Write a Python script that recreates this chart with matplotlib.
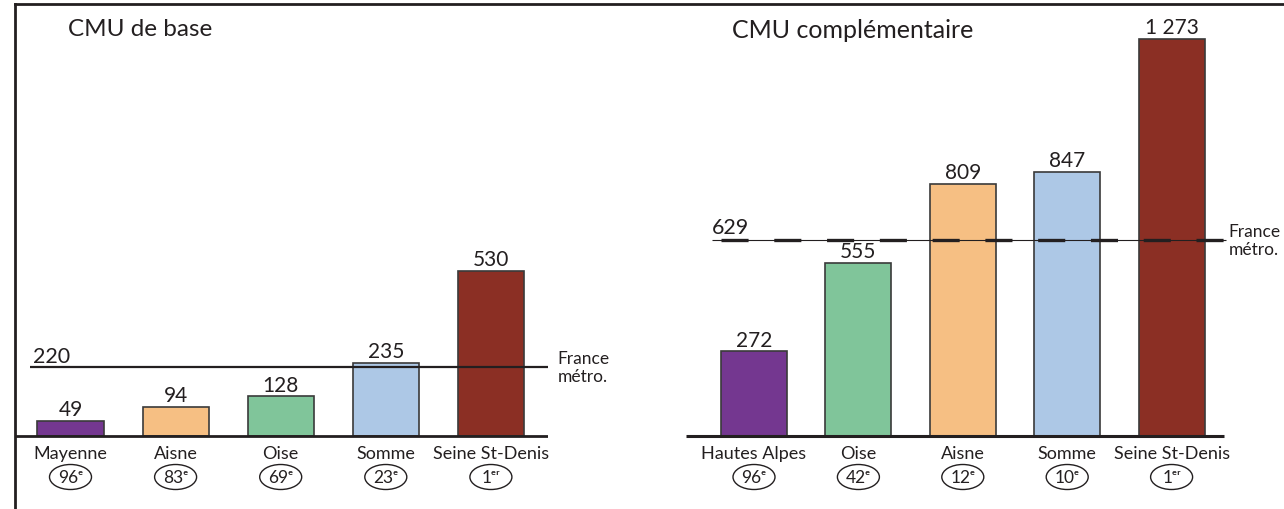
import matplotlib
matplotlib.use("Agg")
import matplotlib.pyplot as plt
from matplotlib.patches import Ellipse
from matplotlib.lines import Line2D

plt.rcParams['font.family'] = ['Lato', 'DejaVu Sans']
plt.rcParams['lines.scale_dashes'] = False

# données
base_depts = ['Mayenne', 'Aisne', 'Oise', 'Somme', 'Seine St-Denis']
base_vals = [49, 94, 128, 235, 530]
base_ranks = ['96ᵉ', '83ᵉ', '69ᵉ', '23ᵉ', '1ᵉʳ']
base_france = 220

compl_depts = ['Hautes Alpes', 'Oise', 'Aisne', 'Somme', 'Seine St-Denis']
compl_vals = [272, 555, 809, 847, 1273]
compl_ranks = ['96ᵉ', '42ᵉ', '12ᵉ', '10ᵉ', '1ᵉʳ']
compl_france = 629

colors_base = ['#743790', '#F6BF83', '#80C59A', '#ADC8E6', '#8B2F24']
colors_compl = ['#743790', '#80C59A', '#F6BF83', '#ADC8E6', '#8B2F24']

INK = '#231F20'
W, H = 1284, 510
SCALE = 0.312   # pixels par unité
BASE_Y = 437    # ligne de base (pixels depuis le haut)

fig = plt.figure(figsize=(W / 100, H / 100), dpi=100)


def make_axes(x0, x1, first_center, step):
    ax = fig.add_axes([x0 / W, 0, (x1 - x0) / W, (H - 5) / H])
    ax.set_xlim((x0 - first_center) / step, (x1 - first_center) / step)
    ax.set_ylim(-(H - BASE_Y) / SCALE, (BASE_Y - 5) / SCALE)
    ax.axis('off')
    return ax


def draw_panel(ax, depts, vals, ranks, colors, step):
    xs = list(range(len(vals)))
    ax.bar(xs, vals, width=66 / step, color=colors, edgecolor='#3a3a3a',
           linewidth=1.2, zorder=2)
    for x, v in zip(xs, vals):
        ax.annotate(f'{v:,}'.replace(',', ' '), (x, v), xytext=(0, 1),
                    textcoords='offset points', ha='center', va='bottom',
                    fontsize=15, color=INK)
    for x, d, r in zip(xs, depts, ranks):
        ax.text(x, -17 / SCALE, d, ha='center', va='center', fontsize=13, color=INK)
        ax.add_patch(Ellipse((x, -41 / SCALE), 42 / step, 25 / SCALE,
                             facecolor='none', edgecolor=INK, linewidth=1.0,
                             clip_on=False))
        ax.text(x, -41 / SCALE, r, ha='center', va='center', fontsize=12.5, color=INK)


# --- CMU de base ---
step_l = 105.1
ax1 = make_axes(15, 548, 70.5, step_l)
draw_panel(ax1, base_depts, base_vals, base_ranks, colors_base, step_l)
ax1.axhline(0, color=INK, linewidth=2.0, zorder=3)
ax1.hlines(base_france, (30 - 70.5) / step_l, (548 - 70.5) / step_l,
           color=INK, linewidth=1.6, zorder=4)
ax1.annotate(str(base_france), ((33 - 70.5) / step_l, base_france), xytext=(0, 1),
             textcoords='offset points', ha='left', va='bottom', fontsize=15.5, color=INK)
ax1.text((557 - 70.5) / step_l, base_france, 'France\nmétro.', ha='left', va='center',
         multialignment='center', fontsize=12.5, color=INK, linespacing=1.15)

# --- CMU complémentaire ---
step_r = 104.4
ax2 = make_axes(686, 1284, 754, step_r)
draw_panel(ax2, compl_depts, compl_vals, compl_ranks, colors_compl, step_r)
ax2.hlines(0, (686 - 754) / step_r, (1224 - 754) / step_r, color=INK,
           linewidth=2.2, zorder=3)
fx0, fx1 = (712 - 754) / step_r, (1226 - 754) / step_r
ax2.hlines(compl_france, fx0, fx1, color=INK, linewidth=0.8, zorder=4)
ax2.plot([(721 - 754) / step_r, fx1], [compl_france, compl_france], color=INK,
         linewidth=2.4, linestyle=(0, (19.5, 18.5)), solid_capstyle='butt',
         dash_capstyle='butt', zorder=5)
ax2.annotate(str(compl_france), (fx0, compl_france), xytext=(0, 2),
             textcoords='offset points', ha='left', va='bottom', fontsize=15.5, color=INK)
ax2.text((1228 - 754) / step_r, compl_france, 'France\nmétro.', ha='left', va='center',
         multialignment='center', fontsize=12.5, color=INK, linespacing=1.15)

# titres
fig.text(68 / W, 1 - 30 / H, 'CMU de base', ha='left', va='center', fontsize=17.5, color=INK)
fig.text(732 / W, 1 - 30 / H, 'CMU complémentaire', ha='left', va='center',
         fontsize=18, color=INK)

# cadre
fig.add_artist(Line2D([15 / W, 1], [1 - 5 / H, 1 - 5 / H], color=INK, linewidth=2.0))
fig.add_artist(Line2D([15 / W, 15 / W], [0, 1 - 5 / H], color=INK, linewidth=2.0))

fig.savefig('out.png', dpi=100)
